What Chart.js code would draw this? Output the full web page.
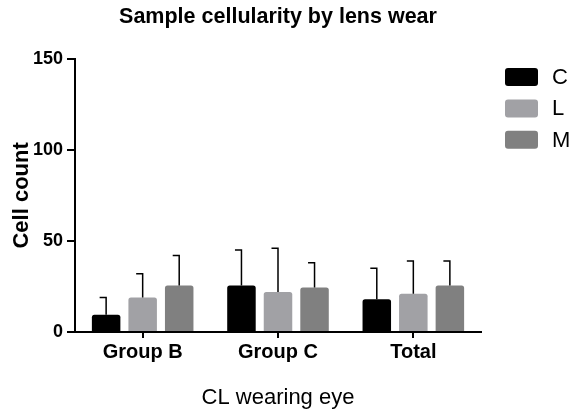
<!DOCTYPE html>
<html><head><meta charset="utf-8">
<script src="https://cdn.jsdelivr.net/npm/chart.js@4"></script>
<style>html,body{margin:0;padding:0;background:#fff}#wrap{width:573px;height:415px;position:relative}</style>
</head><body><div id="wrap"><canvas id="c" width="573" height="415"></canvas></div>
<script>
const categories = ['Group B', 'Group C', 'Total'];
const seriesNames = ['C', 'L', 'M'];
const meanC = [9.5, 25.5, 18];
const meanL = [19, 22, 21];
const meanM = [25.5, 24.5, 25.5];
const errC = [9.5, 19.5, 17];
const errL = [13, 24, 18];
const errM = [16.5, 13.5, 13.5];
const yTicks = [0, 50, 100, 150];
const seriesColors = ['#000000', '#a1a1a5', '#808080'];

const FONT = '"Liberation Sans", Arial, sans-serif';

const errorBars = {
  id: 'errorBars',
  afterDatasetsDraw(chart) {
    const ctx = chart.ctx;
    const ys = chart.scales.y;
    chart.data.datasets.forEach((ds, di) => {
      const meta = chart.getDatasetMeta(di);
      meta.data.forEach((bar, i) => {
        const top = ys.getPixelForValue(ds.data[i] + ds.errors[i]);
        ctx.save();
        ctx.strokeStyle = '#000';
        ctx.lineWidth = 1.5;
        ctx.beginPath();
        ctx.moveTo(bar.x, bar.y);
        ctx.lineTo(bar.x, top);
        ctx.lineTo(bar.x - 6.5, top);
        ctx.stroke();
        ctx.restore();
      });
    });
  }
};

const sideLegend = {
  id: 'sideLegend',
  afterDraw(chart) {
    const ctx = chart.ctx;
    ctx.save();
    chart.data.datasets.forEach((ds, i) => {
      const y0 = 68 + i * 31.4;
      ctx.fillStyle = ds.backgroundColor;
      ctx.beginPath();
      ctx.roundRect(505, y0, 33, 18, 3);
      ctx.fill();
      ctx.fillStyle = '#000';
      ctx.font = '22px ' + FONT;
      ctx.textBaseline = 'middle';
      ctx.textAlign = 'left';
      ctx.fillText(ds.label, 552, y0 + 10);
    });
    ctx.restore();
  }
};

const datasets = [
  { label: seriesNames[0], data: meanC, errors: errC, backgroundColor: seriesColors[0] },
  { label: seriesNames[1], data: meanL, errors: errL, backgroundColor: seriesColors[1] },
  { label: seriesNames[2], data: meanM, errors: errM, backgroundColor: seriesColors[2] }
].map(d => Object.assign(d, {
  categoryPercentage: 0.81,
  barPercentage: 0.78,
  borderRadius: { topLeft: 2.5, topRight: 2.5, bottomLeft: 0, bottomRight: 0 },
  borderSkipped: 'start'
}));

new Chart(document.getElementById('c'), {
  type: 'bar',
  data: { labels: categories, datasets },
  plugins: [errorBars, sideLegend],
  options: {
    responsive: false,
    animation: false,
    layout: { padding: { left: 0, right: 92, top: 0, bottom: 0 } },
    plugins: {
      legend: { display: false },
      tooltip: { enabled: false },
      title: {
        display: true,
        text: 'Sample cellularity by lens wear',
        fullSize: false,
        color: '#000',
        font: { family: FONT, size: 21.5, weight: 'bold' },
        padding: { top: 4, bottom: 29 }
      }
    },
    scales: {
      x: {
        afterFit: s => { s.height = 83; },
        grid: { offset: false, drawOnChartArea: false, drawTicks: true, tickLength: 6, color: '#000', lineWidth: 2 },
        border: { display: true, color: '#000', width: 2 },
        ticks: { color: '#000', font: { family: FONT, size: 20, weight: 'bold' }, padding: 2, maxRotation: 0 },
        title: { display: true, text: 'CL wearing eye', color: '#000', font: { family: FONT, size: 22 }, padding: { top: 0, bottom: 4 } }
      },
      y: {
        min: 0,
        max: 150,
        afterFit: s => { s.width = 75; },
        afterBuildTicks: s => { s.ticks = yTicks.map(v => ({ value: v })); },
        grid: { drawOnChartArea: false, drawTicks: true, tickLength: 8, color: '#000', lineWidth: 2 },
        border: { display: true, color: '#000', width: 2 },
        ticks: { color: '#000', font: { family: FONT, size: 18, weight: 'bold' }, padding: 4 },
        title: { display: true, text: 'Cell count', color: '#000', font: { family: FONT, size: 22, weight: 'bold' }, padding: { top: 9, bottom: 0 } }
      }
    }
  }
});
</script>
</body></html>
